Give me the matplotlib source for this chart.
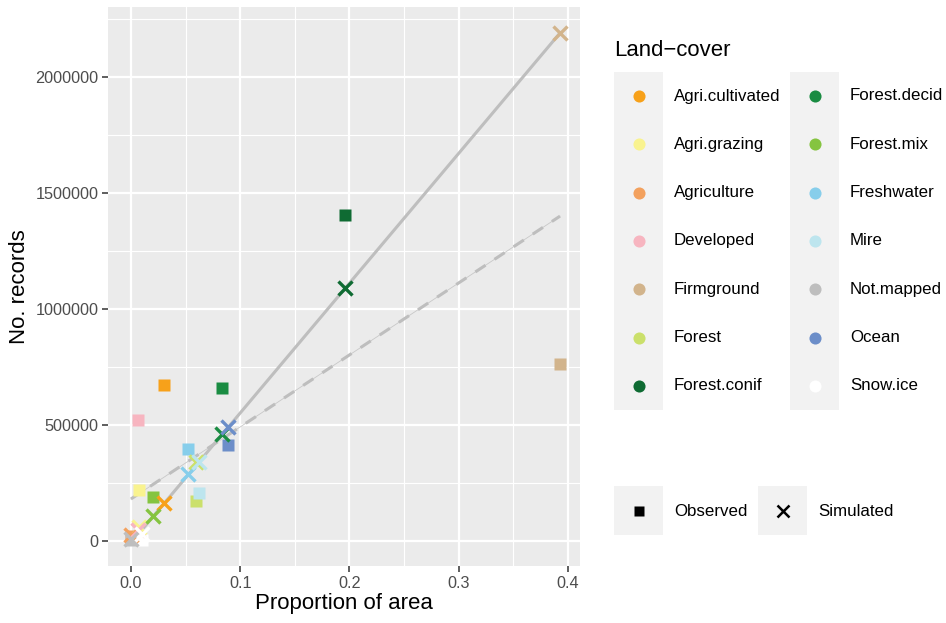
import numpy as np
import matplotlib.pyplot as plt
from matplotlib.patches import Rectangle

plt.rcParams['font.family'] = ['Liberation Sans', 'DejaVu Sans']

# land-cover classes and their colours
classes = ['Agri.cultivated', 'Agri.grazing', 'Agriculture', 'Developed', 'Firmground',
           'Forest', 'Forest.conif', 'Forest.decid', 'Forest.mix', 'Freshwater',
           'Mire', 'Not.mapped', 'Ocean', 'Snow.ice']
colours = ['#F7A11A', '#F9F38F', '#F3A15E', '#F7B5C0', '#D2B48C',
           '#CBE06B', '#0F6B33', '#1A8C42', '#85C440', '#87CEEB',
           '#BDE5EE', '#BEBEBE', '#6C8EC9', '#FFFFFF']

# proportion of area per class
area = [0.030, 0.0073, 0.0005, 0.0065, 0.3927, 0.0595, 0.196, 0.083, 0.0204, 0.0525,
        0.0622, 0.0, 0.0885, 0.0103]
# number of records
observed = [672000, 220000, 20000, 520000, 763000, 174000, 1405000, 660000, 188000,
            397000, 205000, 5000, 415000, 3000]
simulated = [162000, 60000, 25000, 47000, 2190000, 340000, 1090000, 461000, 108000,
             288000, 342000, 10000, 493000, 30000]

# trend lines (intercept, slope)
trend_sim = (-8000, 5597000)
trend_obs = (181000, 3105000)

W, H = 946, 623
fig = plt.figure(figsize=(W / 100, H / 100), dpi=100)
ax = fig.add_axes([108 / W, 1 - 566 / H, (580 - 108) / W, (566 - 7) / H])
ax.set_facecolor('#EBEBEB')
for s in ax.spines.values():
    s.set_visible(False)

x = np.array(area)
for i in range(len(classes)):
    ax.plot(x[i], observed[i], marker='s', ms=8.5, color=colours[i], mec='none',
            ls='none', zorder=3)
for i in range(len(classes)):
    ax.plot(x[i], simulated[i], marker='x', ms=9.5, mew=2.4, color=colours[i],
            ls='none', zorder=4)

xs = np.array([0.0112, x.max()])
xo = np.array([x.min(), x.max()])
ax.plot(xs, trend_sim[0] + trend_sim[1] * xs, color='#BEBEBE', lw=2.2, zorder=2,
        solid_capstyle='butt')
yo = trend_obs[0] + trend_obs[1] * xo
ax.plot(xo, yo, color='#C8C8C8', lw=0.6, zorder=2)
ax.plot(xo, yo, color='#BEBEBE', lw=2.2, ls=(0, (4, 3.5)), zorder=2)

ax.set_xlim(-0.021, 0.411)
ax.set_ylim(-108000, 2302000)
ax.set_xticks([0, 0.1, 0.2, 0.3, 0.4])
ax.set_xticklabels(['0.0', '0.1', '0.2', '0.3', '0.4'])
ax.set_yticks([0, 500000, 1000000, 1500000, 2000000])
ax.set_yticklabels(['0', '500000', '1000000', '1500000', '2000000'])
ax.set_xticks([0.05, 0.15, 0.25, 0.35], minor=True)
ax.set_yticks([250000, 750000, 1250000, 1750000, 2250000], minor=True)
ax.grid(which='major', color='white', lw=1.6)
ax.grid(which='minor', color='white', lw=0.8)
ax.set_axisbelow(True)
ax.tick_params(which='major', length=4, width=1.1, color='#333333',
               labelcolor='#4D4D4D', labelsize=11.7, pad=3)
ax.tick_params(which='minor', length=0)
ax.set_xlabel('Proportion of area', fontsize=16, labelpad=2)
ax.set_ylabel('No. records', fontsize=16, labelpad=4)

# legend drawn in figure pixel coordinates
lg = fig.add_axes([0, 0, 1, 1], zorder=10)
lg.set_xlim(0, W)
lg.set_ylim(H, 0)
lg.axis('off')
lg.text(614, 50, 'Land\u2212cover', fontsize=15.9, va='center', ha='left')
rows = 7
for col, x0 in enumerate([614, 790]):
    lg.add_patch(Rectangle((x0, 72), 49, 338, color='#F2F2F2', lw=0))
    for r in range(rows):
        k = col * rows + r
        yc = 96 + r * 48.3
        lg.plot(x0 + 24.5, yc, 'o', ms=8.7, color=colours[k], mec='none')
        lg.text(x0 + 60, yc, classes[k], fontsize=12.2, va='center', ha='left')

for x0, mk, lab in [(614, 's', 'Observed'), (758, 'x', 'Simulated')]:
    lg.add_patch(Rectangle((x0, 486), 49, 49, color='#F2F2F2', lw=0))
    if mk == 's':
        lg.plot(x0 + 24.5, 511, 's', ms=6.5, color='black', mec='none')
    else:
        lg.plot(x0 + 24.5, 511, 'x', ms=9, mew=1.8, color='black')
    lg.text(x0 + 60, 511, lab, fontsize=12.2, va='center', ha='left')

fig.savefig('out.png', dpi=100)
